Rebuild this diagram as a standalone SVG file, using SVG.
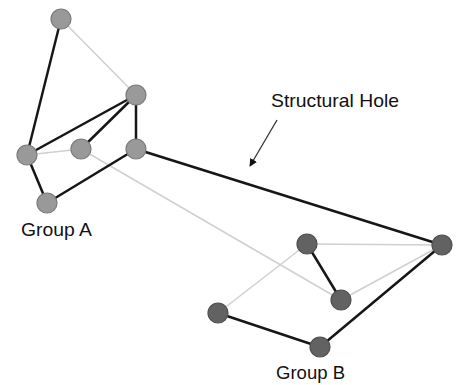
<svg xmlns="http://www.w3.org/2000/svg" width="459" height="385" viewBox="0 0 459 385">
<defs>
<style>
.weak{stroke:#d0d0d0;stroke-width:1.5;fill:none}
.strong{stroke:#161616;stroke-width:2.5;fill:none}
.na{fill:#999;stroke:#7a7a7a;stroke-width:1.2}
.nb{fill:#626262;stroke:#4e4e4e;stroke-width:1.2}
.lbl{font-family:"Liberation Sans",Arial,sans-serif;font-size:18.5px;fill:#111}
</style>
<marker id="ah" viewBox="0 0 10 10" refX="9" refY="5" markerWidth="6" markerHeight="6" orient="auto"><path d="M0,0 L10,5 L0,10 z" fill="#111"/></marker>
</defs>
<rect width="459" height="385" fill="#fff"/>
<g id="connectors">
<line class="weak" x1="61" y1="19" x2="136" y2="95"/>
<line class="weak" x1="27" y1="155" x2="81" y2="149"/>
<line class="weak" x1="81" y1="149" x2="341" y2="300"/>
<line class="weak" x1="307" y1="244" x2="442" y2="245"/>
<line class="weak" x1="341" y1="300" x2="442" y2="245"/>
<line class="weak" x1="218" y1="313" x2="307" y2="244"/>
<line class="strong" x1="61" y1="19" x2="27" y2="155"/>
<line class="strong" x1="27" y1="155" x2="136" y2="95"/>
<line class="strong" x1="81" y1="149" x2="136" y2="95"/>
<line class="strong" x1="136" y1="95" x2="136" y2="149"/>
<line class="strong" x1="136" y1="149" x2="47" y2="203"/>
<line class="strong" x1="27" y1="155" x2="47" y2="203"/>
<line class="strong" x1="136" y1="149" x2="442" y2="245"/>
<line class="strong" x1="307" y1="244" x2="341" y2="300"/>
<line class="strong" x1="218" y1="313" x2="320" y2="347"/>
<line class="strong" x1="320" y1="347" x2="442" y2="245"/>
<line x1="277" y1="120" x2="250" y2="166" stroke="#333" stroke-width="1.3" marker-end="url(#ah)"/>
</g>
<g id="a1"><circle class="na" cx="61" cy="19" r="10"/></g>
<g id="a2"><circle class="na" cx="136" cy="95" r="10"/></g>
<g id="a3"><circle class="na" cx="27" cy="155" r="10"/></g>
<g id="a4"><circle class="na" cx="81" cy="149" r="10"/></g>
<g id="a5"><circle class="na" cx="136" cy="149" r="10"/></g>
<g id="a6"><circle class="na" cx="47" cy="203" r="10"/></g>
<g id="b1"><circle class="nb" cx="307" cy="244" r="10"/></g>
<g id="b2"><circle class="nb" cx="442" cy="245" r="10"/></g>
<g id="b3"><circle class="nb" cx="341" cy="300" r="10"/></g>
<g id="b4"><circle class="nb" cx="218" cy="313" r="10"/></g>
<g id="b5"><circle class="nb" cx="320" cy="347" r="10"/></g>
<g id="labels">
<text class="lbl" x="271" y="107" textLength="128" lengthAdjust="spacingAndGlyphs">Structural Hole</text>
<text class="lbl" x="21" y="236" textLength="71" lengthAdjust="spacingAndGlyphs">Group A</text>
<text class="lbl" x="276" y="379" textLength="69" lengthAdjust="spacingAndGlyphs">Group B</text>
</g>
</svg>
